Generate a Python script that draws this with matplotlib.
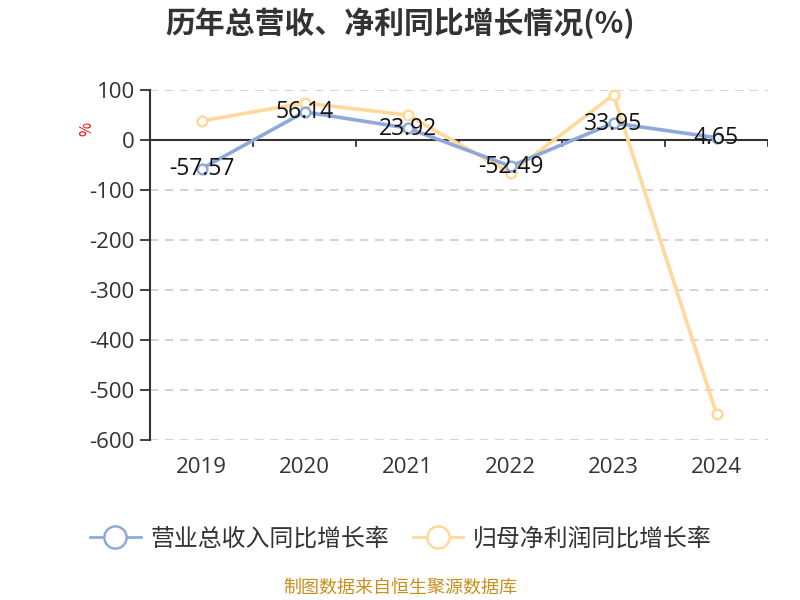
import matplotlib.pyplot as plt
from matplotlib.lines import Line2D

plt.rcParams['font.family'] = ['Noto Sans CJK SC', 'DejaVu Sans']

# Data
years = ['2019', '2020', '2021', '2022', '2023', '2024']
revenue_growth = [-57.57, 56.14, 23.92, -52.49, 33.95, 4.65]
profit_growth = [38, 74, 50, -66, 90, -548]
yticks = [100, 0, -100, -200, -300, -400, -500, -600]

blue = '#8eaadb'
yellow = '#ffd999'
num_font = ['Open Sans', 'DejaVu Sans']

fig = plt.figure(figsize=(8, 6), dpi=100)
ax = fig.add_axes([0.1875, 0.2667, 0.7725, 0.5833])

x = list(range(len(years)))
ax.plot(x, profit_growth, color=yellow, lw=2.6, marker='o', ms=7,
        mfc='white', mec=yellow, mew=1.8, zorder=3)
ax.plot(x, revenue_growth, color=blue, lw=2.6, marker='o', ms=7,
        mfc='white', mec=blue, mew=1.8, zorder=4)

for xi, v in zip(x, revenue_growth):
    ax.text(xi, v - 1, f'{v:.2f}', ha='center', va='center', fontsize=16.5,
            color='#111111', family=num_font, zorder=5)

ax.set_xlim(-0.5, len(years) - 0.5)
ax.set_ylim(-600, 100)
ax.set_yticks(yticks)
ax.set_yticklabels([str(t) for t in yticks], fontsize=16, color='#333333',
                   family=num_font)
for t in yticks:
    if t != 0:
        ax.axhline(t, color='#cccccc', lw=1.2, ls=(0, (5, 4)), zorder=1)

ax.axhline(0, color='#333333', lw=1.5, zorder=2)
# category boundary ticks on the zero line
for b in range(1, len(years) + 1):
    ax.plot([b - 0.5, b - 0.5], [0, -12], color='#333333', lw=1.3, zorder=2)

ax.set_xticks(x)
ax.set_xticklabels(years, fontsize=16, color='#333333', family=num_font)
ax.tick_params(axis='x', length=0, pad=12.5)
ax.tick_params(axis='y', length=7, width=1.3, color='#333333', pad=4)

for s in ['top', 'right', 'bottom']:
    ax.spines[s].set_visible(False)
ax.spines['left'].set_color('#333333')
ax.spines['left'].set_linewidth(1.5)

fig.text(0.109, 0.785, '%', color='red', fontsize=11, rotation=90,
         ha='center', va='center')

fig.text(0.5, 0.962, '历年总营收、净利同比增长情况(%)', ha='center', va='center',
         fontsize=21.5, fontweight='bold', color='#333333')

handles = [
    Line2D([], [], color=blue, lw=2, marker='o', ms=16, mfc='white', mec=blue, mew=1.8),
    Line2D([], [], color=yellow, lw=2, marker='o', ms=16, mfc='white', mec=yellow, mew=1.8),
]
fig.legend(handles, ['营业总收入同比增长率', '归母净利润同比增长率'], loc='center',
           bbox_to_anchor=(0.501, 0.102), ncol=2, frameon=False, fontsize=17.2,
           handlelength=2.1, handletextpad=0.4, columnspacing=1.0,
           labelcolor='#333333')

fig.text(0.5, 0.02, '制图数据来自恒生聚源数据库', ha='center', va='center',
         fontsize=13, color='#c8901e')

fig.savefig('out.png', dpi=100)
